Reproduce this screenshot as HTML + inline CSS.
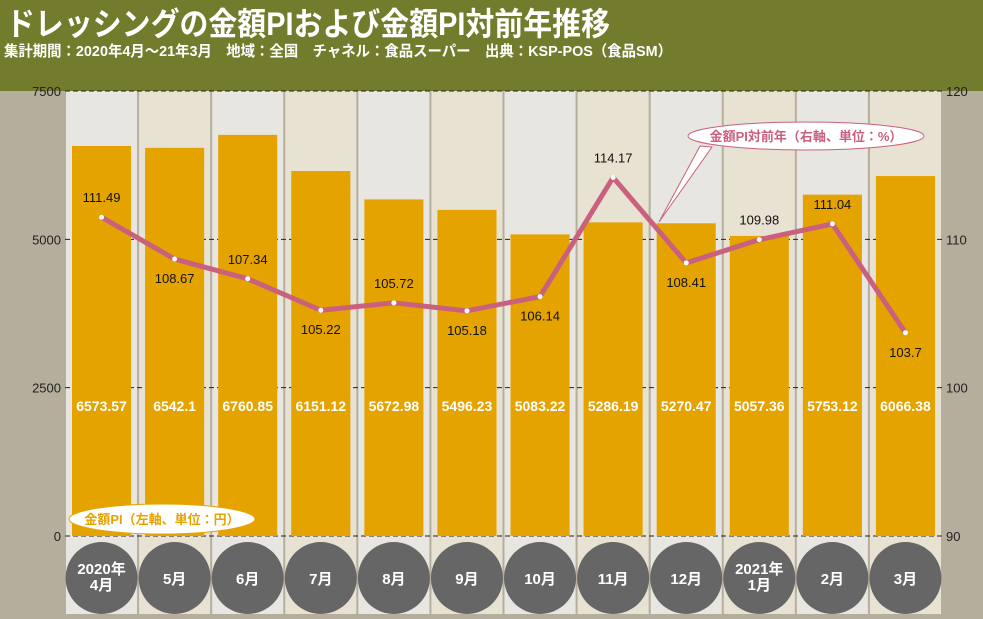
<!DOCTYPE html>
<html><head><meta charset="utf-8"><style>
body{margin:0;width:983px;height:614px;overflow:hidden;background:#b5ae9d;font-family:"Liberation Sans","Noto Sans CJK JP",sans-serif}
svg text{font-family:"Liberation Sans","Noto Sans CJK JP",sans-serif}
</style></head><body>
<svg id="c" width="983" height="614">
<rect x="0" y="0" width="983" height="91" fill="#737b2c"/>
<text x="6" y="35" font-size="32" font-weight="bold" fill="#fff" textLength="604" lengthAdjust="spacingAndGlyphs">ドレッシングの金額PIおよび金額PI対前年推移</text>
<text x="4" y="56" font-size="15" font-weight="bold" fill="#fff" textLength="668" lengthAdjust="spacingAndGlyphs">集計期間：2020年4月～21年3月　地域：全国　チャネル：食品スーパー　出典：KSP-POS（食品SM）</text>
<g id="g"></g>
</svg>
<script>
const categories=["2020年\n4月","5月","6月","7月","8月","9月","10月","11月","12月","2021年\n1月","2月","3月"];
const piValues=[6573.57,6542.1,6760.85,6151.12,5672.98,5496.23,5083.22,5286.19,5270.47,5057.36,5753.12,6066.38];
const yoyValues=[111.49,108.67,107.34,105.22,105.72,105.18,106.14,114.17,108.41,109.98,111.04,103.7];
const leftTicks=[0,2500,5000,7500];
const rightTicks=[90,100,110,120];
const NS="http://www.w3.org/2000/svg";
const g=document.getElementById('g');
const L=65,R=942,T=91,B=536;
const cw=(R-L)/categories.length;
const yL=v=>B-(v/7500)*(B-T);
const yR=v=>B-((v-90)/30)*(B-T);
const xc=i=>L+cw*(i+0.5);
function el(t,a,p){const e=document.createElementNS(NS,t);for(const k in a)e.setAttribute(k,a[k]);(p||g).appendChild(e);return e;}
categories.forEach((c,i)=>{
 const r=el('rect',{x:L+cw*i+1,y:T,width:cw-2,height:614-T,fill:i%2?'#e8e2d3':'#e8e6e1'});
 
 
});
leftTicks.forEach(v=>{
 const l=el('line',{x1:L,x2:R,y1:yL(v),y2:yL(v),stroke:'#222','stroke-dasharray':'5,3','stroke-width':1});
 
 
 const t=el('text',{x:L-4,y:yL(v)+5,'text-anchor':'end','font-size':13,fill:'#222'});
 t.textContent=v;
 
 
});
rightTicks.forEach(v=>{
 const t=el('text',{x:R+4,y:yR(v)+5,'font-size':13,fill:'#222'});
 t.textContent=v;
 
 
});
piValues.forEach((v,i)=>{
 const b=el('rect',{x:L+cw*i+7,y:yL(v),width:cw-14,height:B-yL(v),fill:'#e5a300'});
 
 
 const t=el('text',{x:xc(i),y:411,'text-anchor':'middle','font-size':14,'font-weight':'bold',fill:'#fff'});
 t.textContent=v;
 
 
});
categories.forEach((c,i)=>{
 const ci=el('circle',{cx:xc(i),cy:578,r:36,fill:'#666'});
 
 
 const lines=c.split('\n');
 lines.forEach((s,j)=>{
  const t=el('text',{x:xc(i),y:lines.length>1?574+j*16:584,'text-anchor':'middle','font-size':15,'font-weight':'bold',fill:'#fff'});
  t.textContent=s;
  
  
 });
});
const e1=el('ellipse',{cx:162,cy:519,rx:93,ry:15,fill:'#fff',stroke:'#e5a300'});


const lt=el('text',{x:162,y:524,'text-anchor':'middle','font-size':13,'font-weight':'bold',fill:'#e5a300'});
lt.textContent='金額PI（左軸、単位：円）';


const pts=yoyValues.map((v,i)=>xc(i)+','+yR(v)).join(' ');
const pl=el('polyline',{points:pts,fill:'none',stroke:'#c9607e','stroke-width':5,'stroke-linejoin':'round'});


yoyValues.forEach((v,i)=>{
 const d=el('circle',{cx:xc(i),cy:yR(v),r:2.5,fill:'#fff'});
 
 
 const above=[0,2,4,7,9,10].includes(i);
 const t=el('text',{x:xc(i),y:above?yR(v)-15:yR(v)+24,'text-anchor':'middle','font-size':13,fill:'#111'});
 t.textContent=v;
 
 
});
const cp=el('path',{d:'M700,146 L659,222 L712,147 Z',fill:'#fff',stroke:'#c9607e','stroke-width':1});


const e2=el('ellipse',{cx:806,cy:136,rx:118,ry:14,fill:'#fff',stroke:'#c9607e'});


const lt2=el('text',{x:806,y:141,'text-anchor':'middle','font-size':13,'font-weight':'bold',fill:'#c9607e'});
lt2.textContent='金額PI対前年（右軸、単位：%）';


</script>
</body></html>
